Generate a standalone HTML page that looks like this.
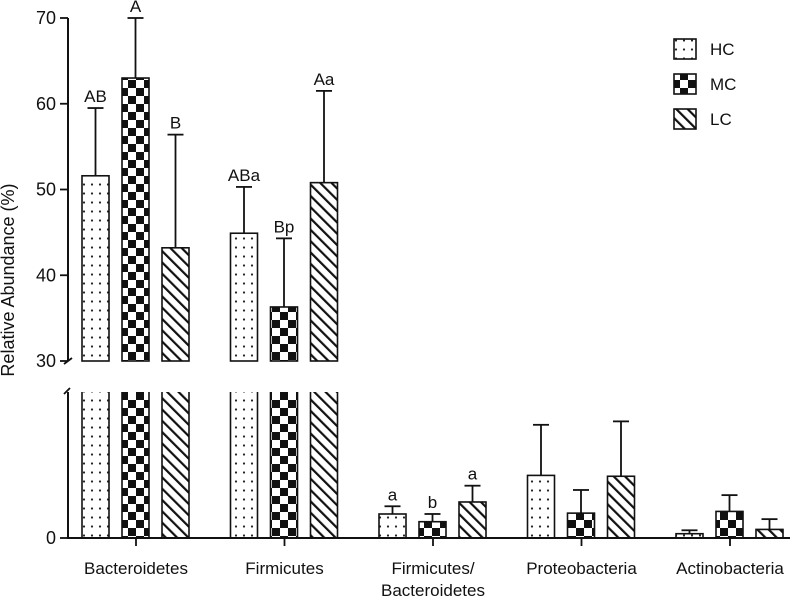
<!DOCTYPE html>
<html><head><meta charset="utf-8"><style>
body{margin:0;background:#fff}
text{font-family:"Liberation Sans",sans-serif;fill:#111}
</style></head><body>
<svg id="chart" width="800" height="600" viewBox="0 0 800 600" xmlns="http://www.w3.org/2000/svg">
<defs>
<pattern id="pHC" patternUnits="userSpaceOnUse" width="8" height="9"><rect width="8" height="9" fill="#fff"/><circle cx="4" cy="4.5" r="1.1" fill="#222"/></pattern>
<pattern id="pMC" patternUnits="userSpaceOnUse" width="16" height="16"><rect width="16" height="16" fill="#fff"/><rect width="8" height="8" fill="#111"/><rect x="8" y="8" width="8" height="8" fill="#111"/></pattern>
<pattern id="pLC" patternUnits="userSpaceOnUse" width="8" height="8" patternTransform="rotate(-45)"><rect width="8" height="8" fill="#fff"/><rect x="0" y="0" width="2.2" height="8" fill="#111"/></pattern>
</defs>
<g id="plot"></g>
</svg>
<script>
const categories=["Bacteroidetes","Firmicutes","Firmicutes/Bacteroidetes","Proteobacteria","Actinobacteria"];
const seriesNames=["HC","MC","LC"];
const hcValues=[51.6,44.9,2.8,7.3,0.5];
const mcValues=[63.0,36.3,1.9,2.9,3.1];
const lcValues=[43.2,50.8,4.2,7.2,1.0];
const hcErr=[7.9,5.4,0.9,5.9,0.4];
const mcErr=[7.0,8.0,0.9,2.7,1.9];
const lcErr=[13.2,10.7,1.9,6.4,1.2];
const letters=[["AB","A","B"],["ABa","Bp","Aa"],["a","b","a"],["","",""],["","",""]];
const upperTicks=[30,40,50,60,70];
const upperSegment=[0,1];

const NS="http://www.w3.org/2000/svg";
const g=document.getElementById('plot');
function el(t,a,p){const e=document.createElementNS(NS,t);for(const k in a)e.setAttribute(k,a[k]);(p||g).appendChild(e);return e;}
const x0=68,base=538,upTop=18,upBot=361,lowTop=392;
const upScale=(upBot-upTop)/40;
function yUp(v){return upBot-(v-30)*upScale;}
function yLow(v){return base-v*upScale;}
function groupX(i){return 136+i*148.5;}
const fills=["url(#pHC)","url(#pMC)","url(#pLC)"];
const vals=[hcValues,mcValues,lcValues],errs=[hcErr,mcErr,lcErr];
const bw=27;
categories.forEach((c,i)=>{
  const broken=upperSegment.includes(i);
  for(let s=0;s<3;s++){
    const v=vals[s][i],e=errs[s][i];
    const bx=groupX(i)-54+s*40;
    const y=f=>broken?yUp(f):yLow(f);
    const top=y(v),et=y(v+e);
    const ln=el('line',{x1:bx+bw/2,y1:et,x2:bx+bw/2,y2:top,stroke:'#111','stroke-width':1.8});
    
    
    const cap=el('line',{x1:bx+bw/2-8,y1:et,x2:bx+bw/2+8,y2:et,stroke:'#111','stroke-width':1.8});
    
    
    if(broken){
      const r1=el('rect',{x:bx,y:top,width:bw,height:upBot-top,fill:fills[s],stroke:'#111','stroke-width':1.6});
      
      
      const r2=el('path',{d:`M${bx},${lowTop} V${base} H${bx+bw} V${lowTop}`,fill:fills[s],stroke:'#111','stroke-width':1.6});
      
      
    }else{
      const r=el('rect',{x:bx,y:top,width:bw,height:base-top,fill:fills[s],stroke:'#111','stroke-width':1.6});
      
      
    }
    if(letters[i][s]){
      const t=el('text',{x:bx+bw/2,y:et-6,'text-anchor':'middle','font-size':17});
      t.textContent=letters[i][s];
      
      
    }
  }
  const tk=el('line',{x1:groupX(i),y1:base,x2:groupX(i),y2:546,stroke:'#111','stroke-width':1.8});
  
  
  const parts=c==="Firmicutes/Bacteroidetes"?["Firmicutes/","Bacteroidetes"]:[c];
  parts.forEach((p,k)=>{const t=el('text',{x:groupX(i),y:574+k*22,'text-anchor':'middle','font-size':17});t.textContent=p;
    
    });
});
const ax=el('path',{d:`M${x0},${upTop} V${upBot} M${x0},${lowTop} V${base} H790`,fill:'none',stroke:'#111','stroke-width':2});


el('path',{d:`M${x0-4},${upBot+3} L${x0+4},${upBot-3} M${x0-4},${lowTop+2} L${x0+2},${lowTop-4}`,stroke:'#111','stroke-width':1.8,fill:'none'});
upperTicks.forEach(v=>{
  el('line',{x1:x0-8,y1:yUp(v),x2:x0,y2:yUp(v),stroke:'#111','stroke-width':1.8});
  const t=el('text',{x:x0-12,y:yUp(v)+6,'text-anchor':'end','font-size':18});t.textContent=v;
  
  
});
el('line',{x1:x0-8,y1:base,x2:x0,y2:base,stroke:'#111','stroke-width':1.8});
const z=el('text',{x:x0-12,y:base+6,'text-anchor':'end','font-size':18});z.textContent="0";


const yl=el('text',{x:0,y:0,'text-anchor':'middle','font-size':18,transform:'translate(14,280) rotate(-90)'});yl.textContent="Relative Abundance (%)";


seriesNames.forEach((n,s)=>{
  const ly=39+s*35;
  const r=el('rect',{x:674,y:ly,width:22,height:20,fill:fills[s],stroke:'#111','stroke-width':1.6});
  
  
  const t=el('text',{x:710,y:ly+16,'font-size':17});t.textContent=n;
  
  
});
</script>
</body></html>
